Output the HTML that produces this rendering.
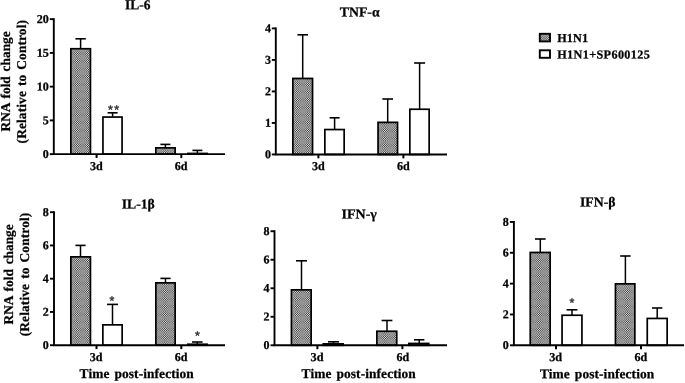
<!DOCTYPE html>
<html lang="en">
<head>
<meta charset="utf-8">
<title>Cytokine RNA fold change</title>
<style>
html,body{margin:0;padding:0;background:#fff;}
body{width:685px;height:383px;overflow:hidden;}
svg{display:block;}
svg text{font-family:'Liberation Serif', 'Times New Roman', serif;font-weight:bold;fill:#000;stroke:#000;stroke-width:0.25px;text-rendering:geometricPrecision;}
</style>
</head>
<body>
<svg width="685" height="383" viewBox="0 0 685 383">
<rect width="685" height="383" fill="#fff"/>
<line x1="80.60" y1="38.80" x2="80.60" y2="48.40" stroke="#000" stroke-width="1.5"/>
<line x1="75.40" y1="38.80" x2="85.80" y2="38.80" stroke="#000" stroke-width="1.6"/>
<rect x="70.85" y="48.75" width="19.60" height="105.40" fill="#dedede"/>
<path d="M70.85 51.17h19.60M70.85 53.47h19.60M70.85 55.77h19.60M70.85 58.07h19.60M70.85 60.37h19.60M70.85 62.67h19.60M70.85 64.97h19.60M70.85 67.27h19.60M70.85 69.57h19.60M70.85 71.88h19.60M70.85 74.17h19.60M70.85 76.47h19.60M70.85 78.77h19.60M70.85 81.07h19.60M70.85 83.38h19.60M70.85 85.67h19.60M70.85 87.97h19.60M70.85 90.27h19.60M70.85 92.57h19.60M70.85 94.87h19.60M70.85 97.17h19.60M70.85 99.47h19.60M70.85 101.77h19.60M70.85 104.07h19.60M70.85 106.37h19.60M70.85 108.67h19.60M70.85 110.97h19.60M70.85 113.27h19.60M70.85 115.57h19.60M70.85 117.87h19.60M70.85 120.17h19.60M70.85 122.47h19.60M70.85 124.77h19.60M70.85 127.07h19.60M70.85 129.38h19.60M70.85 131.67h19.60M70.85 133.97h19.60M70.85 136.27h19.60M70.85 138.57h19.60M70.85 140.88h19.60M70.85 143.17h19.60M70.85 145.47h19.60M70.85 147.77h19.60M70.85 150.07h19.60M70.85 152.38h19.60" stroke="#3a3a3a" stroke-width="1.15" stroke-dasharray="1.1 1.1" stroke-dashoffset="0.450" fill="none"/>
<path d="M70.85 49.10h19.60" stroke="#3a3a3a" stroke-width="0.70" stroke-dasharray="1.1 1.1" stroke-dashoffset="0.450" fill="none"/>
<path d="M70.85 154.12h19.60" stroke="#3a3a3a" stroke-width="0.05" stroke-dasharray="1.1 1.1" stroke-dashoffset="0.450" fill="none"/>
<path d="M70.85 50.02h19.60M70.85 52.32h19.60M70.85 54.62h19.60M70.85 56.92h19.60M70.85 59.22h19.60M70.85 61.52h19.60M70.85 63.82h19.60M70.85 66.12h19.60M70.85 68.42h19.60M70.85 70.72h19.60M70.85 73.02h19.60M70.85 75.32h19.60M70.85 77.62h19.60M70.85 79.92h19.60M70.85 82.22h19.60M70.85 84.52h19.60M70.85 86.82h19.60M70.85 89.12h19.60M70.85 91.42h19.60M70.85 93.72h19.60M70.85 96.02h19.60M70.85 98.32h19.60M70.85 100.62h19.60M70.85 102.92h19.60M70.85 105.22h19.60M70.85 107.52h19.60M70.85 109.82h19.60M70.85 112.12h19.60M70.85 114.42h19.60M70.85 116.72h19.60M70.85 119.02h19.60M70.85 121.32h19.60M70.85 123.62h19.60M70.85 125.92h19.60M70.85 128.22h19.60M70.85 130.52h19.60M70.85 132.82h19.60M70.85 135.12h19.60M70.85 137.42h19.60M70.85 139.72h19.60M70.85 142.02h19.60M70.85 144.32h19.60M70.85 146.62h19.60M70.85 148.92h19.60M70.85 151.22h19.60M70.85 153.52h19.60" stroke="#3a3a3a" stroke-width="1.15" stroke-dasharray="1.1 1.1" stroke-dashoffset="1.550" fill="none"/>
<rect x="70.85" y="48.75" width="19.60" height="105.40" fill="none" stroke="#000" stroke-width="1.7"/>
<line x1="112.60" y1="112.80" x2="112.60" y2="116.70" stroke="#000" stroke-width="1.5"/>
<line x1="107.60" y1="112.80" x2="117.60" y2="112.80" stroke="#000" stroke-width="1.6"/>
<rect x="102.95" y="117.05" width="19.10" height="37.10" fill="#fff" stroke="#000" stroke-width="1.7"/>
<line x1="165.40" y1="144.40" x2="165.40" y2="147.50" stroke="#000" stroke-width="1.5"/>
<line x1="160.40" y1="144.40" x2="170.40" y2="144.40" stroke="#000" stroke-width="1.6"/>
<rect x="155.85" y="147.85" width="19.30" height="6.30" fill="#dedede"/>
<path d="M155.85 150.07h19.30M155.85 152.38h19.30" stroke="#3a3a3a" stroke-width="1.15" stroke-dasharray="1.1 1.1" stroke-dashoffset="1.850" fill="none"/>
<path d="M155.85 148.10h19.30" stroke="#3a3a3a" stroke-width="0.50" stroke-dasharray="1.1 1.1" stroke-dashoffset="1.850" fill="none"/>
<path d="M155.85 154.12h19.30" stroke="#3a3a3a" stroke-width="0.05" stroke-dasharray="1.1 1.1" stroke-dashoffset="1.850" fill="none"/>
<path d="M155.85 148.92h19.30M155.85 151.22h19.30M155.85 153.52h19.30" stroke="#3a3a3a" stroke-width="1.15" stroke-dasharray="1.1 1.1" stroke-dashoffset="2.950" fill="none"/>
<rect x="155.85" y="147.85" width="19.30" height="6.30" fill="none" stroke="#000" stroke-width="1.7"/>
<line x1="197.40" y1="150.40" x2="197.40" y2="153.10" stroke="#000" stroke-width="1.5"/>
<line x1="192.40" y1="150.40" x2="202.40" y2="150.40" stroke="#000" stroke-width="1.6"/>
<rect x="187.85" y="153.45" width="19.30" height="0.70" fill="#fff" stroke="#000" stroke-width="1.7"/>
<line x1="53.80" y1="18.20" x2="53.80" y2="154.15" stroke="#000" stroke-width="1.9"/>
<line x1="52.85" y1="154.15" x2="225.00" y2="154.15" stroke="#000" stroke-width="1.9"/>
<line x1="49.80" y1="154.15" x2="53.80" y2="154.15" stroke="#000" stroke-width="1.9"/>
<text x="42.75" y="157.95" transform="rotate(0.03 42.75 157.95)" font-size="12" text-anchor="start" textLength="6.0" lengthAdjust="spacingAndGlyphs">0</text>
<line x1="49.80" y1="120.40" x2="53.80" y2="120.40" stroke="#000" stroke-width="1.9"/>
<text x="42.75" y="124.20" transform="rotate(0.03 42.75 124.20)" font-size="12" text-anchor="start" textLength="6.0" lengthAdjust="spacingAndGlyphs">5</text>
<line x1="49.80" y1="86.65" x2="53.80" y2="86.65" stroke="#000" stroke-width="1.9"/>
<text x="36.70" y="90.45" transform="rotate(0.03 36.70 90.45)" font-size="12" text-anchor="start" textLength="12.1" lengthAdjust="spacingAndGlyphs">10</text>
<line x1="49.80" y1="52.90" x2="53.80" y2="52.90" stroke="#000" stroke-width="1.9"/>
<text x="36.70" y="56.70" transform="rotate(0.03 36.70 56.70)" font-size="12" text-anchor="start" textLength="12.1" lengthAdjust="spacingAndGlyphs">15</text>
<line x1="49.80" y1="19.15" x2="53.80" y2="19.15" stroke="#000" stroke-width="1.9"/>
<text x="36.70" y="22.95" transform="rotate(0.03 36.70 22.95)" font-size="12" text-anchor="start" textLength="12.1" lengthAdjust="spacingAndGlyphs">20</text>
<line x1="96.60" y1="154.15" x2="96.60" y2="158.05" stroke="#000" stroke-width="2.0"/>
<text x="90.00" y="170.00" transform="rotate(0.03 90.00 170.00)" font-size="12" text-anchor="start" textLength="12.8" lengthAdjust="spacingAndGlyphs">3d</text>
<line x1="181.30" y1="154.15" x2="181.30" y2="158.05" stroke="#000" stroke-width="2.0"/>
<text x="174.80" y="170.00" transform="rotate(0.03 174.80 170.00)" font-size="12" text-anchor="start" textLength="12.8" lengthAdjust="spacingAndGlyphs">6d</text>
<text x="125.10" y="9.25" transform="rotate(0.03 125.10 9.25)" font-size="13.7" text-anchor="start" textLength="25.4" lengthAdjust="spacingAndGlyphs">IL-6</text>
<text x="110.40" y="113.85" font-size="12.5" text-anchor="middle" style="font-family:'Liberation Sans',Arial,sans-serif;font-weight:normal;fill:#333;stroke:#333;stroke-width:0.45">*</text>
<text x="116.65" y="113.85" font-size="12.5" text-anchor="middle" style="font-family:'Liberation Sans',Arial,sans-serif;font-weight:normal;fill:#333;stroke:#333;stroke-width:0.45">*</text>
<text transform="translate(9.90,131.50) rotate(-90)" x="0" y="0" font-size="13.4" textLength="100.2" lengthAdjust="spacing" style="word-spacing:1.5px">RNA fold change</text>
<text transform="translate(26.00,143.40) rotate(-90)" x="0" y="0" font-size="13.4" textLength="123.4" lengthAdjust="spacing" style="word-spacing:1.5px">(Relative to Control)</text>
<line x1="302.70" y1="34.80" x2="302.70" y2="78.10" stroke="#000" stroke-width="1.5"/>
<line x1="297.40" y1="34.80" x2="308.00" y2="34.80" stroke="#000" stroke-width="1.6"/>
<rect x="292.85" y="78.45" width="19.70" height="76.00" fill="#dedede"/>
<path d="M292.85 81.07h19.70M292.85 83.38h19.70M292.85 85.67h19.70M292.85 87.97h19.70M292.85 90.27h19.70M292.85 92.57h19.70M292.85 94.87h19.70M292.85 97.17h19.70M292.85 99.47h19.70M292.85 101.77h19.70M292.85 104.07h19.70M292.85 106.37h19.70M292.85 108.67h19.70M292.85 110.97h19.70M292.85 113.27h19.70M292.85 115.57h19.70M292.85 117.87h19.70M292.85 120.17h19.70M292.85 122.47h19.70M292.85 124.77h19.70M292.85 127.07h19.70M292.85 129.38h19.70M292.85 131.67h19.70M292.85 133.97h19.70M292.85 136.27h19.70M292.85 138.57h19.70M292.85 140.88h19.70M292.85 143.17h19.70M292.85 145.47h19.70M292.85 147.77h19.70M292.85 150.07h19.70M292.85 152.38h19.70" stroke="#3a3a3a" stroke-width="1.15" stroke-dasharray="1.1 1.1" stroke-dashoffset="0.250" fill="none"/>
<path d="M292.85 78.90h19.70" stroke="#3a3a3a" stroke-width="0.90" stroke-dasharray="1.1 1.1" stroke-dashoffset="0.250" fill="none"/>
<path d="M292.85 154.27h19.70" stroke="#3a3a3a" stroke-width="0.35" stroke-dasharray="1.1 1.1" stroke-dashoffset="0.250" fill="none"/>
<path d="M292.85 79.92h19.70M292.85 82.22h19.70M292.85 84.52h19.70M292.85 86.82h19.70M292.85 89.12h19.70M292.85 91.42h19.70M292.85 93.72h19.70M292.85 96.02h19.70M292.85 98.32h19.70M292.85 100.62h19.70M292.85 102.92h19.70M292.85 105.22h19.70M292.85 107.52h19.70M292.85 109.82h19.70M292.85 112.12h19.70M292.85 114.42h19.70M292.85 116.72h19.70M292.85 119.02h19.70M292.85 121.32h19.70M292.85 123.62h19.70M292.85 125.92h19.70M292.85 128.22h19.70M292.85 130.52h19.70M292.85 132.82h19.70M292.85 135.12h19.70M292.85 137.42h19.70M292.85 139.72h19.70M292.85 142.02h19.70M292.85 144.32h19.70M292.85 146.62h19.70M292.85 148.92h19.70M292.85 151.22h19.70M292.85 153.52h19.70" stroke="#3a3a3a" stroke-width="1.15" stroke-dasharray="1.1 1.1" stroke-dashoffset="1.350" fill="none"/>
<rect x="292.85" y="78.45" width="19.70" height="76.00" fill="none" stroke="#000" stroke-width="1.7"/>
<line x1="334.60" y1="117.80" x2="334.60" y2="129.20" stroke="#000" stroke-width="1.5"/>
<line x1="329.60" y1="117.80" x2="339.60" y2="117.80" stroke="#000" stroke-width="1.6"/>
<rect x="324.85" y="129.55" width="19.30" height="24.90" fill="#fff" stroke="#000" stroke-width="1.7"/>
<line x1="387.70" y1="99.00" x2="387.70" y2="122.00" stroke="#000" stroke-width="1.5"/>
<line x1="382.40" y1="99.00" x2="393.00" y2="99.00" stroke="#000" stroke-width="1.6"/>
<rect x="378.05" y="122.35" width="19.50" height="32.10" fill="#dedede"/>
<path d="M378.05 124.77h19.50M378.05 127.07h19.50M378.05 129.38h19.50M378.05 131.67h19.50M378.05 133.97h19.50M378.05 136.27h19.50M378.05 138.57h19.50M378.05 140.88h19.50M378.05 143.17h19.50M378.05 145.47h19.50M378.05 147.77h19.50M378.05 150.07h19.50M378.05 152.38h19.50" stroke="#3a3a3a" stroke-width="1.15" stroke-dasharray="1.1 1.1" stroke-dashoffset="1.850" fill="none"/>
<path d="M378.05 122.70h19.50" stroke="#3a3a3a" stroke-width="0.70" stroke-dasharray="1.1 1.1" stroke-dashoffset="1.850" fill="none"/>
<path d="M378.05 154.27h19.50" stroke="#3a3a3a" stroke-width="0.35" stroke-dasharray="1.1 1.1" stroke-dashoffset="1.850" fill="none"/>
<path d="M378.05 123.62h19.50M378.05 125.92h19.50M378.05 128.22h19.50M378.05 130.52h19.50M378.05 132.82h19.50M378.05 135.12h19.50M378.05 137.42h19.50M378.05 139.72h19.50M378.05 142.02h19.50M378.05 144.32h19.50M378.05 146.62h19.50M378.05 148.92h19.50M378.05 151.22h19.50M378.05 153.52h19.50" stroke="#3a3a3a" stroke-width="1.15" stroke-dasharray="1.1 1.1" stroke-dashoffset="2.950" fill="none"/>
<rect x="378.05" y="122.35" width="19.50" height="32.10" fill="none" stroke="#000" stroke-width="1.7"/>
<line x1="419.60" y1="63.00" x2="419.60" y2="108.90" stroke="#000" stroke-width="1.5"/>
<line x1="414.10" y1="63.00" x2="425.10" y2="63.00" stroke="#000" stroke-width="1.6"/>
<rect x="409.85" y="109.25" width="19.30" height="45.20" fill="#fff" stroke="#000" stroke-width="1.7"/>
<line x1="275.80" y1="27.46" x2="275.80" y2="154.45" stroke="#000" stroke-width="1.9"/>
<line x1="274.85" y1="154.45" x2="447.00" y2="154.45" stroke="#000" stroke-width="1.9"/>
<line x1="271.80" y1="154.45" x2="275.80" y2="154.45" stroke="#000" stroke-width="1.9"/>
<text x="265.05" y="158.25" transform="rotate(0.03 265.05 158.25)" font-size="12" text-anchor="start" textLength="6.0" lengthAdjust="spacingAndGlyphs">0</text>
<line x1="271.80" y1="122.94" x2="275.80" y2="122.94" stroke="#000" stroke-width="1.9"/>
<text x="265.05" y="126.74" transform="rotate(0.03 265.05 126.74)" font-size="12" text-anchor="start" textLength="6.0" lengthAdjust="spacingAndGlyphs">1</text>
<line x1="271.80" y1="91.43" x2="275.80" y2="91.43" stroke="#000" stroke-width="1.9"/>
<text x="265.05" y="95.23" transform="rotate(0.03 265.05 95.23)" font-size="12" text-anchor="start" textLength="6.0" lengthAdjust="spacingAndGlyphs">2</text>
<line x1="271.80" y1="59.92" x2="275.80" y2="59.92" stroke="#000" stroke-width="1.9"/>
<text x="265.05" y="63.72" transform="rotate(0.03 265.05 63.72)" font-size="12" text-anchor="start" textLength="6.0" lengthAdjust="spacingAndGlyphs">3</text>
<line x1="271.80" y1="28.41" x2="275.80" y2="28.41" stroke="#000" stroke-width="1.9"/>
<text x="265.05" y="32.21" transform="rotate(0.03 265.05 32.21)" font-size="12" text-anchor="start" textLength="6.0" lengthAdjust="spacingAndGlyphs">4</text>
<line x1="318.40" y1="154.45" x2="318.40" y2="158.35" stroke="#000" stroke-width="2.0"/>
<text x="311.90" y="170.00" transform="rotate(0.03 311.90 170.00)" font-size="12" text-anchor="start" textLength="12.8" lengthAdjust="spacingAndGlyphs">3d</text>
<line x1="403.40" y1="154.45" x2="403.40" y2="158.35" stroke="#000" stroke-width="2.0"/>
<text x="397.00" y="170.00" transform="rotate(0.03 397.00 170.00)" font-size="12" text-anchor="start" textLength="12.8" lengthAdjust="spacingAndGlyphs">6d</text>
<text x="339.80" y="16.50" transform="rotate(0.03 339.80 16.50)" font-size="13.7" text-anchor="start" textLength="39.8" lengthAdjust="spacingAndGlyphs">TNF-α</text>
<line x1="80.50" y1="245.40" x2="80.50" y2="256.50" stroke="#000" stroke-width="1.5"/>
<line x1="75.40" y1="245.40" x2="85.60" y2="245.40" stroke="#000" stroke-width="1.6"/>
<rect x="70.85" y="256.85" width="19.60" height="88.35" fill="#dedede"/>
<path d="M70.85 258.17h19.60M70.85 260.47h19.60M70.85 262.77h19.60M70.85 265.07h19.60M70.85 267.38h19.60M70.85 269.67h19.60M70.85 271.97h19.60M70.85 274.27h19.60M70.85 276.57h19.60M70.85 278.88h19.60M70.85 281.17h19.60M70.85 283.47h19.60M70.85 285.77h19.60M70.85 288.07h19.60M70.85 290.38h19.60M70.85 292.67h19.60M70.85 294.97h19.60M70.85 297.27h19.60M70.85 299.57h19.60M70.85 301.88h19.60M70.85 304.17h19.60M70.85 306.47h19.60M70.85 308.77h19.60M70.85 311.07h19.60M70.85 313.38h19.60M70.85 315.67h19.60M70.85 317.97h19.60M70.85 320.27h19.60M70.85 322.57h19.60M70.85 324.88h19.60M70.85 327.17h19.60M70.85 329.47h19.60M70.85 331.77h19.60M70.85 334.07h19.60M70.85 336.38h19.60M70.85 338.67h19.60M70.85 340.97h19.60M70.85 343.27h19.60" stroke="#3a3a3a" stroke-width="1.15" stroke-dasharray="1.1 1.1" stroke-dashoffset="0.450" fill="none"/>
<path d="M70.85 345.10h19.60" stroke="#3a3a3a" stroke-width="0.20" stroke-dasharray="1.1 1.1" stroke-dashoffset="0.450" fill="none"/>
<path d="M70.85 259.32h19.60M70.85 261.62h19.60M70.85 263.92h19.60M70.85 266.22h19.60M70.85 268.52h19.60M70.85 270.82h19.60M70.85 273.12h19.60M70.85 275.42h19.60M70.85 277.72h19.60M70.85 280.02h19.60M70.85 282.32h19.60M70.85 284.62h19.60M70.85 286.92h19.60M70.85 289.22h19.60M70.85 291.52h19.60M70.85 293.82h19.60M70.85 296.12h19.60M70.85 298.42h19.60M70.85 300.72h19.60M70.85 303.02h19.60M70.85 305.32h19.60M70.85 307.62h19.60M70.85 309.92h19.60M70.85 312.22h19.60M70.85 314.52h19.60M70.85 316.82h19.60M70.85 319.12h19.60M70.85 321.42h19.60M70.85 323.72h19.60M70.85 326.02h19.60M70.85 328.32h19.60M70.85 330.62h19.60M70.85 332.92h19.60M70.85 335.22h19.60M70.85 337.52h19.60M70.85 339.82h19.60M70.85 342.12h19.60M70.85 344.42h19.60" stroke="#3a3a3a" stroke-width="1.15" stroke-dasharray="1.1 1.1" stroke-dashoffset="1.550" fill="none"/>
<path d="M70.85 257.23h19.60" stroke="#3a3a3a" stroke-width="0.75" stroke-dasharray="1.1 1.1" stroke-dashoffset="1.550" fill="none"/>
<rect x="70.85" y="256.85" width="19.60" height="88.35" fill="none" stroke="#000" stroke-width="1.7"/>
<line x1="112.50" y1="304.40" x2="112.50" y2="324.50" stroke="#000" stroke-width="1.5"/>
<line x1="107.00" y1="304.40" x2="118.00" y2="304.40" stroke="#000" stroke-width="1.6"/>
<rect x="102.85" y="324.85" width="19.30" height="20.35" fill="#fff" stroke="#000" stroke-width="1.7"/>
<line x1="165.50" y1="278.40" x2="165.50" y2="282.50" stroke="#000" stroke-width="1.5"/>
<line x1="160.40" y1="278.40" x2="170.60" y2="278.40" stroke="#000" stroke-width="1.6"/>
<rect x="155.85" y="282.85" width="19.30" height="62.35" fill="#dedede"/>
<path d="M155.85 283.47h19.30M155.85 285.77h19.30M155.85 288.07h19.30M155.85 290.38h19.30M155.85 292.67h19.30M155.85 294.97h19.30M155.85 297.27h19.30M155.85 299.57h19.30M155.85 301.88h19.30M155.85 304.17h19.30M155.85 306.47h19.30M155.85 308.77h19.30M155.85 311.07h19.30M155.85 313.38h19.30M155.85 315.67h19.30M155.85 317.97h19.30M155.85 320.27h19.30M155.85 322.57h19.30M155.85 324.88h19.30M155.85 327.17h19.30M155.85 329.47h19.30M155.85 331.77h19.30M155.85 334.07h19.30M155.85 336.38h19.30M155.85 338.67h19.30M155.85 340.97h19.30M155.85 343.27h19.30" stroke="#3a3a3a" stroke-width="1.15" stroke-dasharray="1.1 1.1" stroke-dashoffset="1.850" fill="none"/>
<path d="M155.85 345.10h19.30" stroke="#3a3a3a" stroke-width="0.20" stroke-dasharray="1.1 1.1" stroke-dashoffset="1.850" fill="none"/>
<path d="M155.85 284.62h19.30M155.85 286.92h19.30M155.85 289.22h19.30M155.85 291.52h19.30M155.85 293.82h19.30M155.85 296.12h19.30M155.85 298.42h19.30M155.85 300.72h19.30M155.85 303.02h19.30M155.85 305.32h19.30M155.85 307.62h19.30M155.85 309.92h19.30M155.85 312.22h19.30M155.85 314.52h19.30M155.85 316.82h19.30M155.85 319.12h19.30M155.85 321.42h19.30M155.85 323.72h19.30M155.85 326.02h19.30M155.85 328.32h19.30M155.85 330.62h19.30M155.85 332.92h19.30M155.85 335.22h19.30M155.85 337.52h19.30M155.85 339.82h19.30M155.85 342.12h19.30M155.85 344.42h19.30" stroke="#3a3a3a" stroke-width="1.15" stroke-dasharray="1.1 1.1" stroke-dashoffset="2.950" fill="none"/>
<path d="M155.85 282.88h19.30" stroke="#3a3a3a" stroke-width="0.05" stroke-dasharray="1.1 1.1" stroke-dashoffset="2.950" fill="none"/>
<rect x="155.85" y="282.85" width="19.30" height="62.35" fill="none" stroke="#000" stroke-width="1.7"/>
<line x1="197.30" y1="342.00" x2="197.30" y2="343.90" stroke="#000" stroke-width="1.5"/>
<line x1="192.00" y1="342.00" x2="202.60" y2="342.00" stroke="#000" stroke-width="1.6"/>
<rect x="187.85" y="344.25" width="19.30" height="0.95" fill="#fff" stroke="#000" stroke-width="1.7"/>
<line x1="54.00" y1="211.25" x2="54.00" y2="345.20" stroke="#000" stroke-width="1.9"/>
<line x1="53.05" y1="345.20" x2="225.00" y2="345.20" stroke="#000" stroke-width="1.9"/>
<line x1="50.00" y1="345.20" x2="54.00" y2="345.20" stroke="#000" stroke-width="1.9"/>
<text x="42.85" y="349.00" transform="rotate(0.03 42.85 349.00)" font-size="12" text-anchor="start" textLength="6.0" lengthAdjust="spacingAndGlyphs">0</text>
<line x1="50.00" y1="311.95" x2="54.00" y2="311.95" stroke="#000" stroke-width="1.9"/>
<text x="42.85" y="315.75" transform="rotate(0.03 42.85 315.75)" font-size="12" text-anchor="start" textLength="6.0" lengthAdjust="spacingAndGlyphs">2</text>
<line x1="50.00" y1="278.70" x2="54.00" y2="278.70" stroke="#000" stroke-width="1.9"/>
<text x="42.85" y="282.50" transform="rotate(0.03 42.85 282.50)" font-size="12" text-anchor="start" textLength="6.0" lengthAdjust="spacingAndGlyphs">4</text>
<line x1="50.00" y1="245.45" x2="54.00" y2="245.45" stroke="#000" stroke-width="1.9"/>
<text x="42.85" y="249.25" transform="rotate(0.03 42.85 249.25)" font-size="12" text-anchor="start" textLength="6.0" lengthAdjust="spacingAndGlyphs">6</text>
<line x1="50.00" y1="212.20" x2="54.00" y2="212.20" stroke="#000" stroke-width="1.9"/>
<text x="42.85" y="216.00" transform="rotate(0.03 42.85 216.00)" font-size="12" text-anchor="start" textLength="6.0" lengthAdjust="spacingAndGlyphs">8</text>
<line x1="96.50" y1="345.20" x2="96.50" y2="349.10" stroke="#000" stroke-width="2.0"/>
<text x="89.80" y="361.00" transform="rotate(0.03 89.80 361.00)" font-size="12" text-anchor="start" textLength="12.8" lengthAdjust="spacingAndGlyphs">3d</text>
<line x1="181.30" y1="345.20" x2="181.30" y2="349.10" stroke="#000" stroke-width="2.0"/>
<text x="174.80" y="361.00" transform="rotate(0.03 174.80 361.00)" font-size="12" text-anchor="start" textLength="12.8" lengthAdjust="spacingAndGlyphs">6d</text>
<text x="121.70" y="208.50" transform="rotate(0.03 121.70 208.50)" font-size="13.7" text-anchor="start" textLength="33.1" lengthAdjust="spacingAndGlyphs">IL-1β</text>
<text x="111.85" y="304.75" font-size="12.5" text-anchor="middle" style="font-family:'Liberation Sans',Arial,sans-serif;font-weight:normal;fill:#333;stroke:#333;stroke-width:0.45">*</text>
<text x="197.45" y="339.75" font-size="12.5" text-anchor="middle" style="font-family:'Liberation Sans',Arial,sans-serif;font-weight:normal;fill:#333;stroke:#333;stroke-width:0.45">*</text>
<text x="79.60" y="377.90" transform="rotate(0.03 79.60 377.90)" font-size="13.4" text-anchor="start" textLength="114.2" lengthAdjust="spacing" style="word-spacing:1.5px">Time post-infection</text>
<text transform="translate(13.15,324.40) rotate(-90)" x="0" y="0" font-size="13.4" textLength="100.1" lengthAdjust="spacing" style="word-spacing:1.5px">RNA fold change</text>
<text transform="translate(29.20,336.30) rotate(-90)" x="0" y="0" font-size="13.4" textLength="123.6" lengthAdjust="spacing" style="word-spacing:1.5px">(Relative to Control)</text>
<line x1="301.50" y1="260.80" x2="301.50" y2="289.50" stroke="#000" stroke-width="1.5"/>
<line x1="296.00" y1="260.80" x2="307.00" y2="260.80" stroke="#000" stroke-width="1.6"/>
<rect x="291.45" y="289.85" width="19.70" height="55.45" fill="#dedede"/>
<path d="M291.45 292.67h19.70M291.45 294.97h19.70M291.45 297.27h19.70M291.45 299.57h19.70M291.45 301.88h19.70M291.45 304.17h19.70M291.45 306.47h19.70M291.45 308.77h19.70M291.45 311.07h19.70M291.45 313.38h19.70M291.45 315.67h19.70M291.45 317.97h19.70M291.45 320.27h19.70M291.45 322.57h19.70M291.45 324.88h19.70M291.45 327.17h19.70M291.45 329.47h19.70M291.45 331.77h19.70M291.45 334.07h19.70M291.45 336.38h19.70M291.45 338.67h19.70M291.45 340.97h19.70M291.45 343.27h19.70" stroke="#3a3a3a" stroke-width="1.15" stroke-dasharray="1.1 1.1" stroke-dashoffset="1.050" fill="none"/>
<path d="M291.45 290.40h19.70" stroke="#3a3a3a" stroke-width="1.10" stroke-dasharray="1.1 1.1" stroke-dashoffset="1.050" fill="none"/>
<path d="M291.45 345.15h19.70" stroke="#3a3a3a" stroke-width="0.30" stroke-dasharray="1.1 1.1" stroke-dashoffset="1.050" fill="none"/>
<path d="M291.45 291.52h19.70M291.45 293.82h19.70M291.45 296.12h19.70M291.45 298.42h19.70M291.45 300.72h19.70M291.45 303.02h19.70M291.45 305.32h19.70M291.45 307.62h19.70M291.45 309.92h19.70M291.45 312.22h19.70M291.45 314.52h19.70M291.45 316.82h19.70M291.45 319.12h19.70M291.45 321.42h19.70M291.45 323.72h19.70M291.45 326.02h19.70M291.45 328.32h19.70M291.45 330.62h19.70M291.45 332.92h19.70M291.45 335.22h19.70M291.45 337.52h19.70M291.45 339.82h19.70M291.45 342.12h19.70M291.45 344.42h19.70" stroke="#3a3a3a" stroke-width="1.15" stroke-dasharray="1.1 1.1" stroke-dashoffset="2.150" fill="none"/>
<rect x="291.45" y="289.85" width="19.70" height="55.45" fill="none" stroke="#000" stroke-width="1.7"/>
<line x1="333.50" y1="341.80" x2="333.50" y2="343.50" stroke="#000" stroke-width="1.5"/>
<line x1="328.00" y1="341.80" x2="339.00" y2="341.80" stroke="#000" stroke-width="1.6"/>
<rect x="323.25" y="343.85" width="19.90" height="1.45" fill="#fff" stroke="#000" stroke-width="1.7"/>
<line x1="387.00" y1="320.50" x2="387.00" y2="330.90" stroke="#000" stroke-width="1.5"/>
<line x1="381.60" y1="320.50" x2="392.40" y2="320.50" stroke="#000" stroke-width="1.6"/>
<rect x="376.85" y="331.25" width="19.90" height="14.05" fill="#dedede"/>
<path d="M376.85 334.07h19.90M376.85 336.38h19.90M376.85 338.67h19.90M376.85 340.97h19.90M376.85 343.27h19.90" stroke="#3a3a3a" stroke-width="1.15" stroke-dasharray="1.1 1.1" stroke-dashoffset="0.650" fill="none"/>
<path d="M376.85 331.80h19.90" stroke="#3a3a3a" stroke-width="1.10" stroke-dasharray="1.1 1.1" stroke-dashoffset="0.650" fill="none"/>
<path d="M376.85 345.15h19.90" stroke="#3a3a3a" stroke-width="0.30" stroke-dasharray="1.1 1.1" stroke-dashoffset="0.650" fill="none"/>
<path d="M376.85 332.92h19.90M376.85 335.22h19.90M376.85 337.52h19.90M376.85 339.82h19.90M376.85 342.12h19.90M376.85 344.42h19.90" stroke="#3a3a3a" stroke-width="1.15" stroke-dasharray="1.1 1.1" stroke-dashoffset="1.750" fill="none"/>
<rect x="376.85" y="331.25" width="19.90" height="14.05" fill="none" stroke="#000" stroke-width="1.7"/>
<line x1="419.20" y1="339.80" x2="419.20" y2="343.10" stroke="#000" stroke-width="1.5"/>
<line x1="414.00" y1="339.80" x2="424.40" y2="339.80" stroke="#000" stroke-width="1.6"/>
<rect x="408.85" y="343.45" width="19.90" height="1.85" fill="#fff" stroke="#000" stroke-width="1.7"/>
<line x1="274.50" y1="230.27" x2="274.50" y2="345.30" stroke="#000" stroke-width="1.9"/>
<line x1="273.55" y1="345.30" x2="447.00" y2="345.30" stroke="#000" stroke-width="1.9"/>
<line x1="270.50" y1="345.30" x2="274.50" y2="345.30" stroke="#000" stroke-width="1.9"/>
<text x="263.55" y="349.10" transform="rotate(0.03 263.55 349.10)" font-size="12" text-anchor="start" textLength="6.0" lengthAdjust="spacingAndGlyphs">0</text>
<line x1="270.50" y1="316.78" x2="274.50" y2="316.78" stroke="#000" stroke-width="1.9"/>
<text x="263.55" y="320.58" transform="rotate(0.03 263.55 320.58)" font-size="12" text-anchor="start" textLength="6.0" lengthAdjust="spacingAndGlyphs">2</text>
<line x1="270.50" y1="288.26" x2="274.50" y2="288.26" stroke="#000" stroke-width="1.9"/>
<text x="263.55" y="292.06" transform="rotate(0.03 263.55 292.06)" font-size="12" text-anchor="start" textLength="6.0" lengthAdjust="spacingAndGlyphs">4</text>
<line x1="270.50" y1="259.74" x2="274.50" y2="259.74" stroke="#000" stroke-width="1.9"/>
<text x="263.55" y="263.54" transform="rotate(0.03 263.55 263.54)" font-size="12" text-anchor="start" textLength="6.0" lengthAdjust="spacingAndGlyphs">6</text>
<line x1="270.50" y1="231.22" x2="274.50" y2="231.22" stroke="#000" stroke-width="1.9"/>
<text x="263.55" y="235.02" transform="rotate(0.03 263.55 235.02)" font-size="12" text-anchor="start" textLength="6.0" lengthAdjust="spacingAndGlyphs">8</text>
<line x1="317.40" y1="345.30" x2="317.40" y2="349.20" stroke="#000" stroke-width="2.0"/>
<text x="310.50" y="361.00" transform="rotate(0.03 310.50 361.00)" font-size="12" text-anchor="start" textLength="13.0" lengthAdjust="spacingAndGlyphs">3d</text>
<line x1="402.40" y1="345.30" x2="402.40" y2="349.20" stroke="#000" stroke-width="2.0"/>
<text x="396.40" y="361.00" transform="rotate(0.03 396.40 361.00)" font-size="12" text-anchor="start" textLength="12.8" lengthAdjust="spacingAndGlyphs">6d</text>
<text x="341.60" y="218.50" transform="rotate(0.03 341.60 218.50)" font-size="13.7" text-anchor="start" textLength="35.3" lengthAdjust="spacingAndGlyphs">IFN-γ</text>
<text x="301.60" y="377.90" transform="rotate(0.03 301.60 377.90)" font-size="13.4" text-anchor="start" textLength="114.2" lengthAdjust="spacing" style="word-spacing:1.5px">Time post-infection</text>
<line x1="540.30" y1="239.00" x2="540.30" y2="252.10" stroke="#000" stroke-width="1.5"/>
<line x1="535.00" y1="239.00" x2="545.60" y2="239.00" stroke="#000" stroke-width="1.6"/>
<rect x="530.25" y="252.45" width="19.90" height="92.85" fill="#dedede"/>
<path d="M530.25 253.57h19.90M530.25 255.88h19.90M530.25 258.17h19.90M530.25 260.47h19.90M530.25 262.77h19.90M530.25 265.07h19.90M530.25 267.38h19.90M530.25 269.67h19.90M530.25 271.97h19.90M530.25 274.27h19.90M530.25 276.57h19.90M530.25 278.88h19.90M530.25 281.17h19.90M530.25 283.47h19.90M530.25 285.77h19.90M530.25 288.07h19.90M530.25 290.38h19.90M530.25 292.67h19.90M530.25 294.97h19.90M530.25 297.27h19.90M530.25 299.57h19.90M530.25 301.88h19.90M530.25 304.17h19.90M530.25 306.47h19.90M530.25 308.77h19.90M530.25 311.07h19.90M530.25 313.38h19.90M530.25 315.67h19.90M530.25 317.97h19.90M530.25 320.27h19.90M530.25 322.57h19.90M530.25 324.88h19.90M530.25 327.17h19.90M530.25 329.47h19.90M530.25 331.77h19.90M530.25 334.07h19.90M530.25 336.38h19.90M530.25 338.67h19.90M530.25 340.97h19.90M530.25 343.27h19.90" stroke="#3a3a3a" stroke-width="1.15" stroke-dasharray="1.1 1.1" stroke-dashoffset="0.050" fill="none"/>
<path d="M530.25 345.15h19.90" stroke="#3a3a3a" stroke-width="0.30" stroke-dasharray="1.1 1.1" stroke-dashoffset="0.050" fill="none"/>
<path d="M530.25 254.72h19.90M530.25 257.02h19.90M530.25 259.32h19.90M530.25 261.62h19.90M530.25 263.92h19.90M530.25 266.22h19.90M530.25 268.52h19.90M530.25 270.82h19.90M530.25 273.12h19.90M530.25 275.42h19.90M530.25 277.72h19.90M530.25 280.02h19.90M530.25 282.32h19.90M530.25 284.62h19.90M530.25 286.92h19.90M530.25 289.22h19.90M530.25 291.52h19.90M530.25 293.82h19.90M530.25 296.12h19.90M530.25 298.42h19.90M530.25 300.72h19.90M530.25 303.02h19.90M530.25 305.32h19.90M530.25 307.62h19.90M530.25 309.92h19.90M530.25 312.22h19.90M530.25 314.52h19.90M530.25 316.82h19.90M530.25 319.12h19.90M530.25 321.42h19.90M530.25 323.72h19.90M530.25 326.02h19.90M530.25 328.32h19.90M530.25 330.62h19.90M530.25 332.92h19.90M530.25 335.22h19.90M530.25 337.52h19.90M530.25 339.82h19.90M530.25 342.12h19.90M530.25 344.42h19.90" stroke="#3a3a3a" stroke-width="1.15" stroke-dasharray="1.1 1.1" stroke-dashoffset="1.150" fill="none"/>
<path d="M530.25 252.72h19.90" stroke="#3a3a3a" stroke-width="0.55" stroke-dasharray="1.1 1.1" stroke-dashoffset="1.150" fill="none"/>
<rect x="530.25" y="252.45" width="19.90" height="92.85" fill="none" stroke="#000" stroke-width="1.7"/>
<line x1="572.00" y1="309.80" x2="572.00" y2="314.90" stroke="#000" stroke-width="1.5"/>
<line x1="566.60" y1="309.80" x2="577.40" y2="309.80" stroke="#000" stroke-width="1.6"/>
<rect x="562.05" y="315.25" width="19.90" height="30.05" fill="#fff" stroke="#000" stroke-width="1.7"/>
<line x1="625.40" y1="256.00" x2="625.40" y2="283.50" stroke="#000" stroke-width="1.5"/>
<line x1="620.20" y1="256.00" x2="630.60" y2="256.00" stroke="#000" stroke-width="1.6"/>
<rect x="615.45" y="283.85" width="19.40" height="61.45" fill="#dedede"/>
<path d="M615.45 285.77h19.40M615.45 288.07h19.40M615.45 290.38h19.40M615.45 292.67h19.40M615.45 294.97h19.40M615.45 297.27h19.40M615.45 299.57h19.40M615.45 301.88h19.40M615.45 304.17h19.40M615.45 306.47h19.40M615.45 308.77h19.40M615.45 311.07h19.40M615.45 313.38h19.40M615.45 315.67h19.40M615.45 317.97h19.40M615.45 320.27h19.40M615.45 322.57h19.40M615.45 324.88h19.40M615.45 327.17h19.40M615.45 329.47h19.40M615.45 331.77h19.40M615.45 334.07h19.40M615.45 336.38h19.40M615.45 338.67h19.40M615.45 340.97h19.40M615.45 343.27h19.40" stroke="#3a3a3a" stroke-width="1.15" stroke-dasharray="1.1 1.1" stroke-dashoffset="1.650" fill="none"/>
<path d="M615.45 283.95h19.40" stroke="#3a3a3a" stroke-width="0.20" stroke-dasharray="1.1 1.1" stroke-dashoffset="1.650" fill="none"/>
<path d="M615.45 345.15h19.40" stroke="#3a3a3a" stroke-width="0.30" stroke-dasharray="1.1 1.1" stroke-dashoffset="1.650" fill="none"/>
<path d="M615.45 284.62h19.40M615.45 286.92h19.40M615.45 289.22h19.40M615.45 291.52h19.40M615.45 293.82h19.40M615.45 296.12h19.40M615.45 298.42h19.40M615.45 300.72h19.40M615.45 303.02h19.40M615.45 305.32h19.40M615.45 307.62h19.40M615.45 309.92h19.40M615.45 312.22h19.40M615.45 314.52h19.40M615.45 316.82h19.40M615.45 319.12h19.40M615.45 321.42h19.40M615.45 323.72h19.40M615.45 326.02h19.40M615.45 328.32h19.40M615.45 330.62h19.40M615.45 332.92h19.40M615.45 335.22h19.40M615.45 337.52h19.40M615.45 339.82h19.40M615.45 342.12h19.40M615.45 344.42h19.40" stroke="#3a3a3a" stroke-width="1.15" stroke-dasharray="1.1 1.1" stroke-dashoffset="2.750" fill="none"/>
<rect x="615.45" y="283.85" width="19.40" height="61.45" fill="none" stroke="#000" stroke-width="1.7"/>
<line x1="657.20" y1="308.00" x2="657.20" y2="318.10" stroke="#000" stroke-width="1.5"/>
<line x1="652.00" y1="308.00" x2="662.40" y2="308.00" stroke="#000" stroke-width="1.6"/>
<rect x="647.25" y="318.45" width="19.90" height="26.85" fill="#fff" stroke="#000" stroke-width="1.7"/>
<line x1="513.90" y1="220.99" x2="513.90" y2="345.30" stroke="#000" stroke-width="1.9"/>
<line x1="512.95" y1="345.30" x2="684.00" y2="345.30" stroke="#000" stroke-width="1.9"/>
<line x1="509.90" y1="345.30" x2="513.90" y2="345.30" stroke="#000" stroke-width="1.9"/>
<text x="502.85" y="349.10" transform="rotate(0.03 502.85 349.10)" font-size="12" text-anchor="start" textLength="6.0" lengthAdjust="spacingAndGlyphs">0</text>
<line x1="509.90" y1="314.46" x2="513.90" y2="314.46" stroke="#000" stroke-width="1.9"/>
<text x="502.85" y="318.26" transform="rotate(0.03 502.85 318.26)" font-size="12" text-anchor="start" textLength="6.0" lengthAdjust="spacingAndGlyphs">2</text>
<line x1="509.90" y1="283.62" x2="513.90" y2="283.62" stroke="#000" stroke-width="1.9"/>
<text x="502.85" y="287.42" transform="rotate(0.03 502.85 287.42)" font-size="12" text-anchor="start" textLength="6.0" lengthAdjust="spacingAndGlyphs">4</text>
<line x1="509.90" y1="252.78" x2="513.90" y2="252.78" stroke="#000" stroke-width="1.9"/>
<text x="502.85" y="256.58" transform="rotate(0.03 502.85 256.58)" font-size="12" text-anchor="start" textLength="6.0" lengthAdjust="spacingAndGlyphs">6</text>
<line x1="509.90" y1="221.94" x2="513.90" y2="221.94" stroke="#000" stroke-width="1.9"/>
<text x="502.85" y="225.74" transform="rotate(0.03 502.85 225.74)" font-size="12" text-anchor="start" textLength="6.0" lengthAdjust="spacingAndGlyphs">8</text>
<line x1="556.00" y1="345.30" x2="556.00" y2="349.20" stroke="#000" stroke-width="2.0"/>
<text x="549.20" y="361.00" transform="rotate(0.03 549.20 361.00)" font-size="12" text-anchor="start" textLength="13.0" lengthAdjust="spacingAndGlyphs">3d</text>
<line x1="641.00" y1="345.30" x2="641.00" y2="349.20" stroke="#000" stroke-width="2.0"/>
<text x="634.40" y="361.00" transform="rotate(0.03 634.40 361.00)" font-size="12" text-anchor="start" textLength="12.8" lengthAdjust="spacingAndGlyphs">6d</text>
<text x="580.00" y="206.50" transform="rotate(0.03 580.00 206.50)" font-size="13.7" text-anchor="start" textLength="35.5" lengthAdjust="spacingAndGlyphs">IFN-β</text>
<text x="572.05" y="307.00" font-size="12.5" text-anchor="middle" style="font-family:'Liberation Sans',Arial,sans-serif;font-weight:normal;fill:#333;stroke:#333;stroke-width:0.45">*</text>
<text x="540.00" y="378.20" transform="rotate(0.03 540.00 378.20)" font-size="13.4" text-anchor="start" textLength="114.2" lengthAdjust="spacing" style="word-spacing:1.5px">Time post-infection</text>
<rect x="539.80" y="33.80" width="10.20" height="7.60" fill="#dedede"/>
<path d="M539.80 35.07h10.20M539.80 37.38h10.20M539.80 39.67h10.20" stroke="#3a3a3a" stroke-width="1.15" stroke-dasharray="1.1 1.1" stroke-dashoffset="0.800" fill="none"/>
<path d="M539.80 36.22h10.20M539.80 38.52h10.20M539.80 40.82h10.20" stroke="#3a3a3a" stroke-width="1.15" stroke-dasharray="1.1 1.1" stroke-dashoffset="1.900" fill="none"/>
<path d="M539.80 34.15h10.20" stroke="#3a3a3a" stroke-width="0.70" stroke-dasharray="1.1 1.1" stroke-dashoffset="1.900" fill="none"/>
<rect x="539.80" y="33.80" width="10.20" height="7.60" fill="none" stroke="#000" stroke-width="1.9"/>
<rect x="539.80" y="50.30" width="10.20" height="7.50" fill="#fff" stroke="#000" stroke-width="1.9"/>
<text x="557.20" y="41.90" transform="rotate(0.03 557.20 41.90)" font-size="12.2" text-anchor="start" textLength="30.8" lengthAdjust="spacing">H1N1</text>
<text x="557.20" y="58.50" transform="rotate(0.03 557.20 58.50)" font-size="12.2" text-anchor="start" textLength="92.6" lengthAdjust="spacing">H1N1+SP600125</text>
</svg>
</body>
</html>
